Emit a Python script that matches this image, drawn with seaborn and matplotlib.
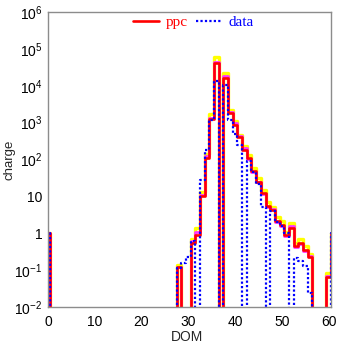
import numpy as np
import pandas as pd
import matplotlib
matplotlib.use("Agg")
import matplotlib.pyplot as plt
import seaborn as sns
from matplotlib.ticker import FixedLocator, MultipleLocator, NullFormatter

# ---------------- data (DOM 0..61) ----------------
dom = list(range(0, 62))
# values for DOM 28..61
ppc_tail = [0.12, 0, 0, 0.54, 0.9, 10, 110, 1250, 40500, 0, 15800, 1800, 870, 410,
            183, 110, 49, 25, 12.4, 5.5, 4.3, 2.15, 1.66, 0.9, 1.38, 0.45, 0.55, 0.36,
            0.23, 0, 0, 0, 0.065, 1]
data_tail = [0.115, 0.155, 0.23, 0.6, 0, 28, 183, 1200, 13500, 0, 10500, 1170, 500, 250,
             0, 90, 45, 22, 5, 0, 4, 2, 1.6, 1.0, 0, 0.21, 0.18, 0.13,
             0.024, 0, 0, 0, 0, 1]
upper_tail = [0.14, 0, 0, 0.70, 1.35, 13, 140, 1700, 59000, 0, 22000, 2200, 1100, 470,
              230, 135, 60, 32, 15, 7.2, 5.2, 2.7, 2.1, 1.1, 1.9, 0.55, 0.68, 0.45,
              0.28, 0, 0, 0, 0.085, 1]
mid_tail = [0.125, 0, 0, 0.6, 1.1, 11, 125, 1350, 45000, 0, 18000, 1950, 950, 430,
            200, 105, 47, 24, 11.5, 5.2, 4.5, 2.0, 1.6, 0.85, 1.55, 0.42, 0.5, 0.33,
            0.24, 0, 0, 0, 0.07, 1]

ppc = [1] + [0] * 27 + ppc_tail
data = [1] + [0] * 27 + data_tail
ppc_upper = [1] + [0] * 27 + upper_tail
ppc_mid = [1] + [0] * 27 + mid_tail

y_ticks = [1e-2, 1e-1, 1, 10, 1e2, 1e3, 1e4, 1e5, 1e6]
y_ticklabels = [r"$\mathregular{10^{-2}}$", r"$\mathregular{10^{-1}}$", "1", "10",
                r"$\mathregular{10^{2}}$", r"$\mathregular{10^{3}}$",
                r"$\mathregular{10^{4}}$", r"$\mathregular{10^{5}}$",
                r"$\mathregular{10^{6}}$"]
x_ticks = [0, 10, 20, 30, 40, 50, 60]

# ---------------- style ----------------
sns.set_style("white")
plt.rcParams["font.family"] = ["Liberation Sans", "DejaVu Sans"]
plt.rcParams["mathtext.fontset"] = "custom"
plt.rcParams["mathtext.rm"] = "Liberation Sans"

fig = plt.figure(figsize=(3.37, 3.44), dpi=100)
ax = fig.add_axes([48 / 337, 1 - 307 / 344, 283 / 337, 295 / 344])

FLOOR = 1e-6


def frame(vals):
    xs = [-1] + dom + [62]
    ys = [FLOOR] + [v if v > 0 else FLOOR for v in vals] + [FLOOR]
    return pd.DataFrame({"DOM": xs, "charge": ys})


sns.lineplot(data=frame(ppc_upper), x="DOM", y="charge", estimator=None,
             drawstyle="steps-mid", color="#ffff00", lw=2.4, ax=ax)
sns.lineplot(data=frame(ppc_mid), x="DOM", y="charge", estimator=None,
             drawstyle="steps-mid", color="#ff33ff", lw=2.0, ax=ax)
sns.lineplot(data=frame(ppc), x="DOM", y="charge", estimator=None,
             drawstyle="steps-mid", color="#ff0000", lw=1.9, ax=ax, label="ppc")
sns.lineplot(data=frame(data), x="DOM", y="charge", estimator=None,
             drawstyle="steps-mid", color="#0000ff", lw=1.6, ax=ax, label="data",
             linestyle=(0, (1.0, 1.0)))

ax.set_yscale("log")
ax.set_ylim(1e-2, 1e6)
ax.set_xlim(0, 60.5)

ax.yaxis.set_major_locator(FixedLocator(y_ticks))
ax.set_yticklabels(y_ticklabels)
ax.yaxis.set_minor_locator(matplotlib.ticker.LogLocator(base=10, subs=np.arange(2, 10), numticks=50))
ax.yaxis.set_minor_formatter(NullFormatter())
ax.xaxis.set_major_locator(FixedLocator(x_ticks))
ax.xaxis.set_minor_locator(MultipleLocator(2))

gray = "#8c8c8c"
for s in ax.spines.values():
    s.set_color(gray)
    s.set_linewidth(1.0)
    s.set_visible(True)
ax.tick_params(axis="both", which="both", direction="in", color=gray,
               labelsize=10, labelcolor="black", top=False, right=False)
ax.tick_params(axis="both", which="major", length=5, width=0.8, pad=4)
ax.tick_params(axis="x", which="major", pad=6)
ax.tick_params(axis="both", which="minor", length=2.5, width=0.8)

ax.set_xlabel("DOM", fontsize=10)
ax.xaxis.set_label_coords(0.49, -0.079)
ax.set_ylabel("charge", fontsize=9.5)
ax.yaxis.set_label_coords(-0.114, 0.5)

handles, labels = ax.get_legend_handles_labels()
leg = ax.legend(handles, labels, loc="center", bbox_to_anchor=(0.515, 0.966), ncol=2,
                frameon=False, handlelength=1.7, handletextpad=0.45, columnspacing=0.5,
                prop={"family": "Liberation Serif", "size": 11}, borderaxespad=0)
leg.get_texts()[0].set_color("#ff0000")
leg.get_texts()[1].set_color("#0000ff")

fig.savefig("out.png", dpi=100)
